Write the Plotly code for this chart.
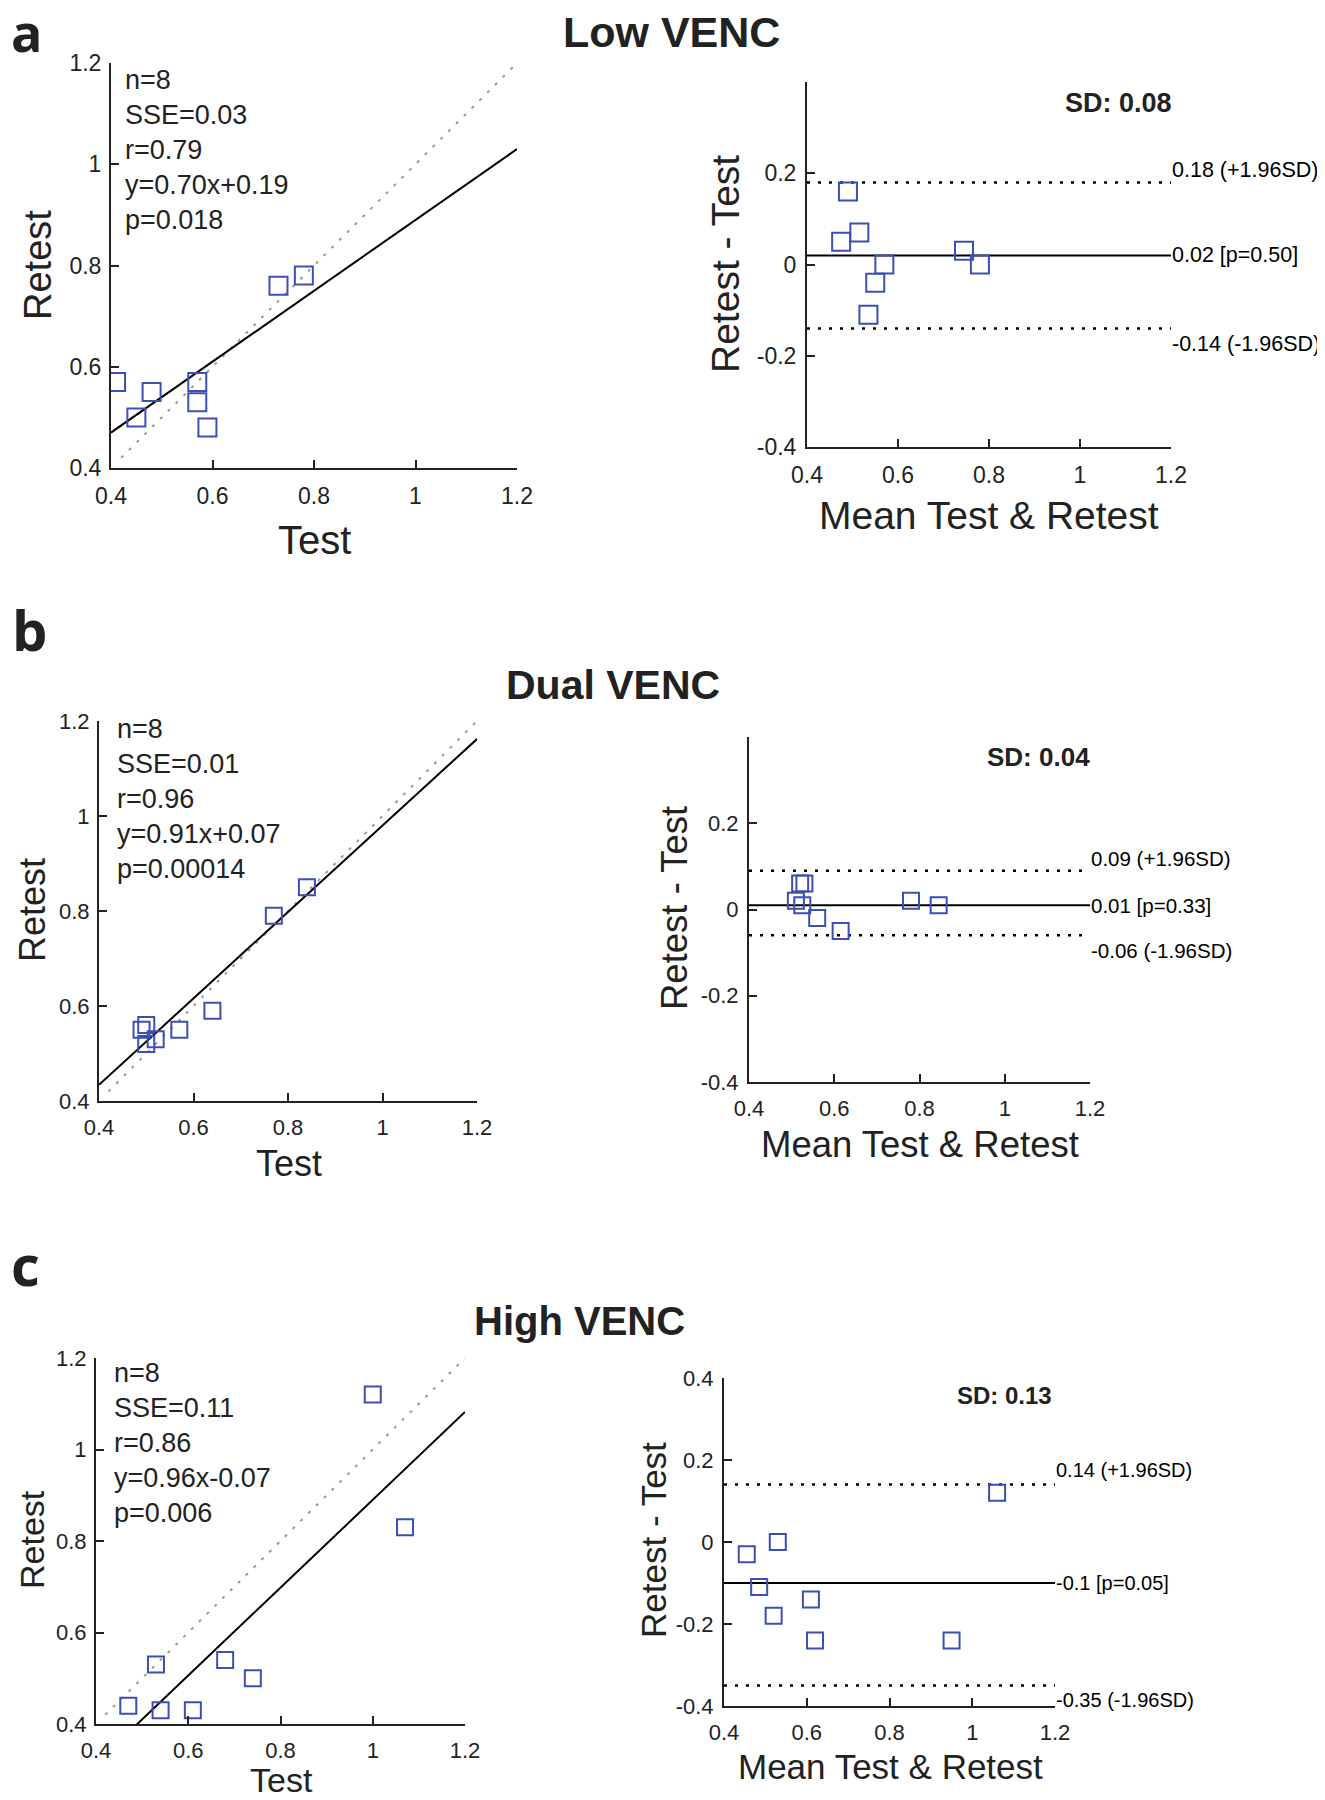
import plotly.graph_objects as go

# the page puts the plot 8px in from the top-left corner
OFF = 8
W, H = 1325 - OFF, 1800 - OFF

# ---- data ----
panels = ["a", "b", "c"]
titles = ["Low VENC", "Dual VENC", "High VENC"]

test_low = [0.41, 0.45, 0.48, 0.57, 0.57, 0.59, 0.73, 0.78]
retest_low = [0.57, 0.50, 0.55, 0.57, 0.53, 0.48, 0.76, 0.78]

test_dual = [0.49, 0.50, 0.50, 0.52, 0.57, 0.64, 0.77, 0.84]
retest_dual = [0.55, 0.56, 0.52, 0.53, 0.55, 0.59, 0.79, 0.85]

test_high = [0.47, 0.53, 0.54, 0.61, 0.68, 0.74, 1.00, 1.07]
retest_high = [0.44, 0.53, 0.43, 0.43, 0.54, 0.50, 1.12, 0.83]

fit_slope = [0.70, 0.91, 0.96]
fit_icept = [0.19, 0.07, -0.07]
stats_text = [
    ["n=8", "SSE=0.03", "r=0.79", "y=0.70x+0.19", "p=0.018"],
    ["n=8", "SSE=0.01", "r=0.96", "y=0.91x+0.07", "p=0.00014"],
    ["n=8", "SSE=0.11", "r=0.86", "y=0.96x-0.07", "p=0.006"],
]

ba_mean = [0.02, 0.01, -0.10]
ba_upper = [0.18, 0.09, 0.14]
ba_lower = [-0.14, -0.06, -0.35]
ba_mean_lbl = ["0.02 [p=0.50]", "0.01 [p=0.33]", "-0.1 [p=0.05]"]
ba_upper_lbl = ["0.18 (+1.96SD)", "0.09 (+1.96SD)", "0.14 (+1.96SD)"]
ba_lower_lbl = ["-0.14 (-1.96SD)", "-0.06 (-1.96SD)", "-0.35 (-1.96SD)"]
ba_sd_lbl = ["SD: 0.08", "SD: 0.04", "SD: 0.13"]

xy_ticks = [0.4, 0.6, 0.8, 1, 1.2]
xy_ticktext = ["0.4", "0.6", "0.8", "1", "1.2"]
ba_yticks = [[-0.4, -0.2, 0, 0.2], [-0.4, -0.2, 0, 0.2], [-0.4, -0.2, 0, 0.2, 0.4]]

tests = [test_low, test_dual, test_high]
retests = [retest_low, retest_dual, retest_high]

# ---- layout geometry (pixels of the reference picture) ----
left_box = [(111, 517, 63, 468), (99, 477, 721, 1101), (96, 465, 1358, 1724)]
right_box = [(807, 1171, 82, 447), (749, 1090, 737, 1082), (724, 1055, 1378, 1706)]
tick_size_l = [23, 22, 22]
tick_size_r = [23, 22, 22]
ytitle_size_l = [38, 36, 34]
xtitle_size_l = [40, 36, 34]
title_size_r = [39, 36.5, 35]
lbl_size = [21.5, 20.5, 20]
lbl_shift = [(12, -16), (12, -15), (15, -14)]
sd_size = [27, 26, 24]
marker_size = [18, 16, 16]
title_size = [43, 41, 40]

FONT = "Liberation Sans, Arial, Helvetica, sans-serif"
LETTER = "Open Sans, Liberation Sans, sans-serif"
TXT = "#222222"
BLUE = "#3b4fb4"


def px_x(p):
    return (p - OFF) / W


def px_y(p):
    return 1 - (p - OFF) / H


fig = go.Figure()
layout = {}
annotations = []


def add_ann(text, x, y, size, family=FONT, **kw):
    d = dict(text=text, x=px_x(x), y=px_y(y), xref="paper", yref="paper",
             xanchor="center", yanchor="middle", showarrow=False,
             font=dict(size=size, family=family, color=TXT))
    d.update(kw)
    annotations.append(d)


def axis_style(domain, anchor, tickvals, ticktext, size, rng, standoff):
    return dict(domain=domain, anchor=anchor, range=rng, showline=True,
                linecolor=TXT, linewidth=2, mirror=False, showgrid=False,
                zeroline=False, ticks="inside", ticklen=8, tickwidth=2,
                tickcolor=TXT, tickvals=tickvals, ticktext=ticktext,
                automargin=False, fixedrange=True, ticklabelstandoff=standoff,
                tickfont=dict(size=size, family=FONT, color=TXT))


for i in range(3):
    xl, xr = 2 * i + 1, 2 * i + 2
    xa_l = "x" if xl == 1 else f"x{xl}"
    ya_l = "y" if xl == 1 else f"y{xl}"
    xa_r, ya_r = f"x{xr}", f"y{xr}"

    # scatter panel axes
    x0, x1, y0, y1 = left_box[i]
    layout["xaxis" if xl == 1 else f"xaxis{xl}"] = axis_style(
        [px_x(x0), px_x(x1)], ya_l, xy_ticks, xy_ticktext, tick_size_l[i], [0.4, 1.2], 6)
    layout["yaxis" if xl == 1 else f"yaxis{xl}"] = axis_style(
        [px_y(y1), px_y(y0)], xa_l, xy_ticks, xy_ticktext, tick_size_l[i], [0.4, 1.2], 3)

    # Bland-Altman axes
    bx0, bx1, by0, by1 = right_box[i]
    yt = ba_yticks[i]
    layout[f"xaxis{xr}"] = axis_style(
        [px_x(bx0), px_x(bx1)], ya_r, xy_ticks, xy_ticktext, tick_size_r[i], [0.4, 1.2], 6)
    layout[f"yaxis{xr}"] = axis_style(
        [px_y(by1), px_y(by0)], xa_r, yt, [f"{v:g}" for v in yt], tick_size_r[i], [-0.4, 0.4], 4)

    t, r = tests[i], retests[i]

    # identity line
    fig.add_trace(go.Scatter(x=[0.42, 1.2], y=[0.42, 1.2], mode="lines",
                             line=dict(color="#9a9a9a", width=2, dash="3px,8px"),
                             xaxis=xa_l, yaxis=ya_l, showlegend=False))
    # regression line
    fx = [0.4, 1.2]
    fy = [fit_slope[i] * v + fit_icept[i] for v in fx]
    fig.add_trace(go.Scatter(x=fx, y=fy, mode="lines", line=dict(color="black", width=2),
                             xaxis=xa_l, yaxis=ya_l, showlegend=False))
    fig.add_trace(go.Scatter(x=t, y=r, mode="markers",
                             marker=dict(symbol="square-open", size=marker_size[i],
                                         color=BLUE, line=dict(width=2, color=BLUE)),
                             xaxis=xa_l, yaxis=ya_l, showlegend=False))

    # Bland-Altman: mean vs difference
    means = [(a + b) / 2 for a, b in zip(t, r)]
    diffs = [b - a for a, b in zip(t, r)]
    for lvl, dash in [(ba_upper[i], "3px,8px"), (ba_lower[i], "3px,8px"), (ba_mean[i], "solid")]:
        fig.add_trace(go.Scatter(x=[0.4, 1.2], y=[lvl, lvl], mode="lines",
                                 line=dict(color="black", width=2 if dash == "solid" else 2.5, dash=dash),
                                 xaxis=xa_r, yaxis=ya_r, showlegend=False))
    fig.add_trace(go.Scatter(x=means, y=diffs, mode="markers",
                             marker=dict(symbol="square-open", size=marker_size[i],
                                         color=BLUE, line=dict(width=2, color=BLUE)),
                             xaxis=xa_r, yaxis=ya_r, showlegend=False))

    up_shift, low_shift = lbl_shift[i]
    for lvl, txt, shift in [(ba_upper[i], ba_upper_lbl[i], up_shift),
                            (ba_mean[i], ba_mean_lbl[i], 0),
                            (ba_lower[i], ba_lower_lbl[i], low_shift)]:
        annotations.append(dict(text=txt, x=1.2, y=lvl, xref=xa_r, yref=ya_r,
                                xanchor="left", yanchor="middle", yshift=shift, xshift=-1,
                                showarrow=False, font=dict(size=lbl_size[i], family=FONT, color="black")))

# stats blocks
stats_pos = [(123, 150), (115, 799), (112, 1443)]
for i in range(3):
    add_ann("<br>".join(stats_text[i]), stats_pos[i][0], stats_pos[i][1], 27,
            xanchor="left", align="left")

# SD labels
sd_pos = [(1118, 103), (1038, 757), (1005, 1395)]
for i in range(3):
    add_ann(f"<b>{ba_sd_lbl[i]}</b>", *sd_pos[i], sd_size[i])

# axis titles
left_ytitle = [(38, 265), (32, 910), (32, 1540)]
left_xtitle = [(314, 540), (289, 1163), (281, 1780)]
right_ytitle = [(726, 264), (674, 908), (653, 1540)]
right_xtitle = [(989, 516), (920, 1144), (890, 1766)]
for i in range(3):
    add_ann("Retest", *left_ytitle[i], ytitle_size_l[i], textangle=-90)
    add_ann("Test", *left_xtitle[i], xtitle_size_l[i])
    add_ann("Retest - Test", *right_ytitle[i], title_size_r[i], textangle=-90)
    add_ann("Mean Test & Retest", *right_xtitle[i], title_size_r[i])

# panel letters (left-anchored just inside the page edge) and titles
letter_pos = [(9, 32), (10, 629), (9, 1264)]
letter_size = [52, 56, 56]
title_pos = [(671, 32), (613, 685), (579, 1321)]
for i in range(3):
    add_ann(f"<b>{panels[i]}</b>", *letter_pos[i], letter_size[i], family=LETTER,
            xanchor="left")
    add_ann(f"<b>{titles[i]}</b>", *title_pos[i], title_size[i])

fig.update_layout(**layout)
fig.update_layout(template="none", width=W, height=H,
                  margin=dict(l=0, r=0, t=0, b=0, pad=0),
                  paper_bgcolor="white", plot_bgcolor="white",
                  annotations=annotations, showlegend=False)

fig.write_html("out.html")
